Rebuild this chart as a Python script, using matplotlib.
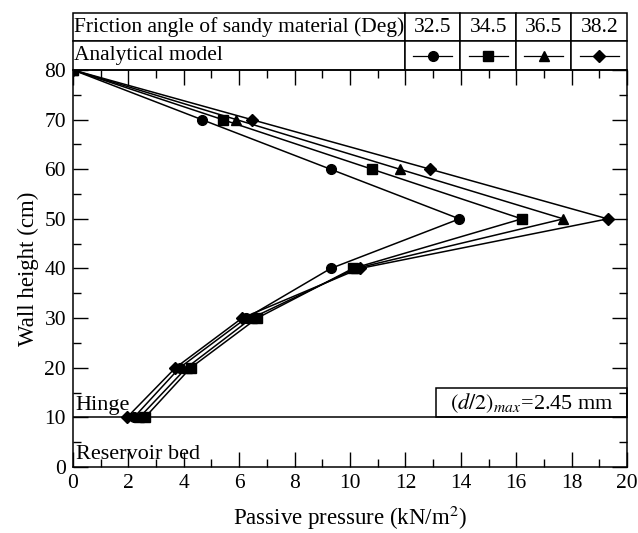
import matplotlib
matplotlib.use('Agg')
import matplotlib.pyplot as plt
from matplotlib.patches import Rectangle
from matplotlib.ticker import MultipleLocator

plt.rcParams['font.family'] = ['Liberation Serif', 'DejaVu Serif']
plt.rcParams['mathtext.fontset'] = 'stix'

# wall height (cm) of the analytical points
heights = [80, 70, 60, 50, 40, 30, 20, 10]

# passive pressure (kN/m2) for each friction angle
p_325 = [0.0, 4.65, 9.3, 13.95, 9.3, 6.25, 3.85, 2.2]
p_345 = [0.0, 5.4, 10.8, 16.2, 10.1, 6.65, 4.25, 2.6]
p_365 = [0.0, 5.9, 11.8, 17.7, 10.2, 6.45, 4.1, 2.4]
p_382 = [0.0, 6.45, 12.9, 19.3, 10.35, 6.1, 3.7, 1.95]

angles = ['32.5', '34.5', '36.5', '38.2']
series = [p_325, p_345, p_365, p_382]
markers = ['o', 's', '^', 'D']
msizes = [7, 7, 7, 6]

fig = plt.figure(figsize=(6.38, 5.33), dpi=100)
ax = fig.add_axes([0.1144, 0.1238, 0.8684, 0.7449])

for p, m, ms in zip(series, markers, msizes):
    ax.plot(p, heights, color='black', lw=1.1, marker=m, ms=ms,
            markerfacecolor='black', markeredgecolor='black')

# hinge line and labels
ax.axhline(10, color='black', lw=1.1)
ax.text(0.1, 10.4, 'Hinge', fontsize=16, va='bottom', ha='left')
ax.text(0.1, 2.6, 'Reservoir bed', fontsize=16, va='center', ha='left')
ax.add_patch(Rectangle((13.1, 10), 6.9, 6, fill=False, edgecolor='black',
                       lw=1.1, clip_on=False))
ax.text(16.55, 12.9, r'$(\mathit{d/2})_{\mathit{max}}$=2.45 mm', fontsize=16,
        ha='center', va='center')

ax.set_xlim(0, 20)
ax.set_ylim(0, 80)
ax.xaxis.set_major_locator(MultipleLocator(2))
ax.xaxis.set_minor_locator(MultipleLocator(1))
ax.yaxis.set_major_locator(MultipleLocator(10))
ax.yaxis.set_minor_locator(MultipleLocator(5))
ax.tick_params(which='both', direction='in', top=True, right=True,
               labelsize=15.5, width=1.0)
ax.tick_params(which='major', length=11, pad=5)
ax.tick_params(which='minor', length=5.5)
for s in ax.spines.values():
    s.set_linewidth(1.1)

ax.set_xlabel('Passive pressure (kN/m$^2$)', fontsize=16.5, labelpad=8)
ax.set_ylabel('Wall height (cm)', fontsize=16.5, labelpad=4)

# legend table above the axes
cell_text = [['Friction angle of sandy material (Deg)'] + angles,
             ['Analytical model', '', '', '', '']]
col_w = [0.599, 0.10025, 0.10025, 0.10025, 0.10025]
tab = ax.table(cellText=cell_text, colWidths=col_w,
               bbox=[0, 1.0, 1.0, 0.1436], cellLoc='center')
tab.auto_set_font_size(False)
for (r, c), cell in tab.get_celld().items():
    cell.set_linewidth(1.1)
    cell.get_text().set_fontsize(15.5)
    if c == 0:
        cell.get_text().set_ha('left')
        cell.PAD = 0.003

x0 = col_w[0]
for i, (m, ms) in enumerate(zip(markers, msizes)):
    left = x0 + i * col_w[1]
    xs = [left + 0.015, left + col_w[1] / 2, left + col_w[1] - 0.015]
    ax.plot(xs, [1.036] * 3, transform=ax.transAxes, clip_on=False,
            color='black', lw=0.9)
    ax.plot([xs[1]], [1.036], transform=ax.transAxes, clip_on=False,
            color='black', marker=m, ms=ms)

fig.savefig('out.png', dpi=100)
